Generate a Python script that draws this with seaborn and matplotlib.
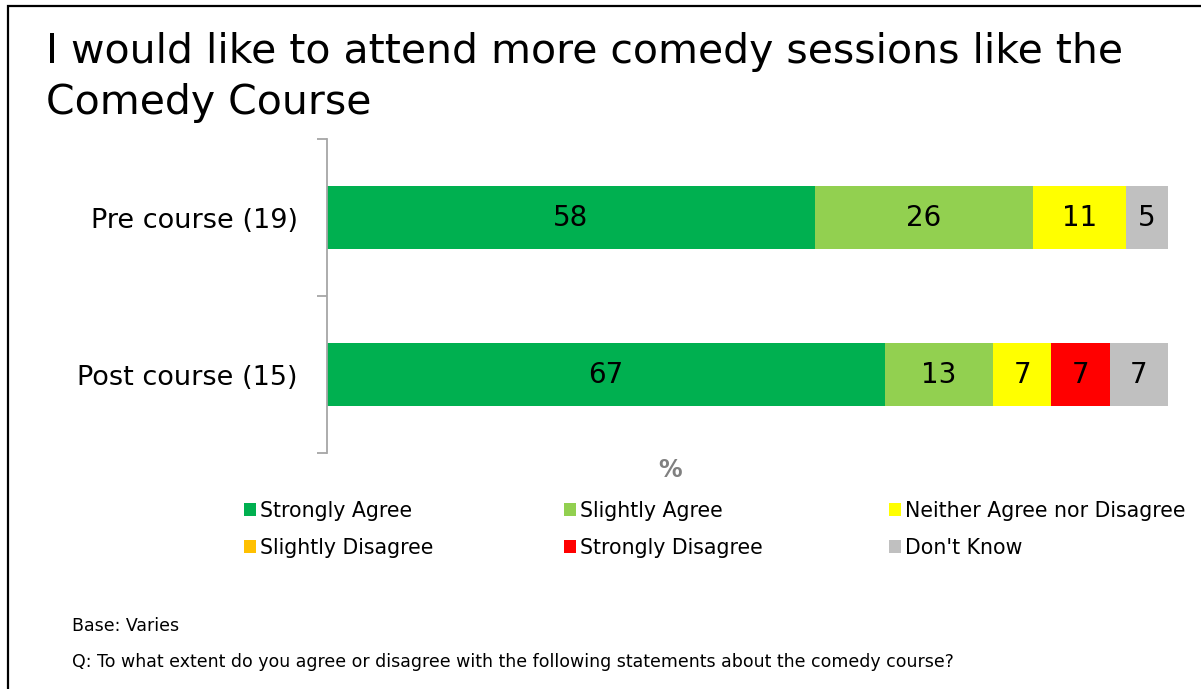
import matplotlib
matplotlib.use("Agg")
import matplotlib.pyplot as plt
from matplotlib.patches import Patch, Rectangle
import numpy as np
import pandas as pd
import seaborn as sns

# Survey groups and response categories
groups = ["Pre course (19)", "Post course (15)"]
responses = ["Strongly Agree", "Slightly Agree", "Neither Agree nor Disagree",
             "Slightly Disagree", "Strongly Disagree", "Don't Know"]

# Percentage of respondents per response (rounded), one value per group
strongly_agree = [58, 67]
slightly_agree = [26, 13]
neither = [11, 7]
slightly_disagree = [0, 0]
strongly_disagree = [0, 7]
dont_know = [5, 7]

colors = ["#00B050", "#92D050", "#FFFF00", "#FFC000", "#FF0000", "#C0C0C0"]

title_lines = ["I would like to attend more comedy sessions like the",
               "Comedy Course"]
base_note = "Base: Varies"
question_note = ("Q: To what extent do you agree or disagree with the following "
                 "statements about the comedy course?")

series = [strongly_agree, slightly_agree, neither,
          slightly_disagree, strongly_disagree, dont_know]

sns.set_style("white")
plt.rcParams["font.family"] = ["DejaVu Sans"]
plt.rcParams["text.color"] = "black"

W, H = 1201, 689
fig = plt.figure(figsize=(W / 100, H / 100), dpi=100)
fig.patch.set_facecolor("white")

ax = fig.add_axes([327 / W, 1 - 453 / H, (1168 - 327) / W, (453 - 139) / H])

# Long-format table; each bar is scaled to fill 100% of the axis
rows = []
for g_i, g in enumerate(groups):
    total = sum(s[g_i] for s in series)
    start = 0.0
    for r_i, r in enumerate(responses):
        v = series[r_i][g_i]
        share = v / total * 100
        rows.append(dict(group=g, response=r, value=v, start=start,
                         share=share, end=start + share, order=r_i))
        start += share
df = pd.DataFrame(rows)

# Draw from the outermost segment inwards so each shorter bar sits on top
for r_i in reversed(range(len(responses))):
    layer = df[df["order"] == r_i]
    sns.barplot(data=layer, x="end", y="group", order=groups, orient="h",
                color=colors[r_i], saturation=1, width=0.4,
                linewidth=0, edgecolor="none", ax=ax)

# Value labels in the middle of each segment
for _, row in df.iterrows():
    if row["value"] > 0:
        ax.text(row["start"] + row["share"] / 2, groups.index(row["group"]),
                f"{row['value']:.0f}", ha="center", va="center",
                fontsize=20, color="black")

ax.set_xlim(0, 100)
ax.set_ylim(1.5, -0.5)
ax.set_xlabel("")
ax.set_ylabel("")
ax.set_xticks([])
ax.set_yticks(range(len(groups)))
ax.set_yticklabels(groups, fontsize=19.5, color="black")
ax.set_yticks([-0.5, 0.5, 1.5], minor=True)
ax.tick_params(axis="y", which="major", length=0, pad=21, labelcolor="black")
ax.tick_params(axis="y", which="minor", length=7.2, width=1.3, color="#A6A6A6",
               left=True)
for s in ["top", "right", "bottom"]:
    ax.spines[s].set_visible(False)
ax.spines["left"].set_color("#A6A6A6")
ax.spines["left"].set_linewidth(1.3)
ax.set_facecolor("white")

# Axis unit label
fig.text(670 / W, 1 - 470 / H, "%", ha="center", va="center",
         fontsize=17, fontweight="bold", color="#808080")

# Legend laid out in three columns, filled row by row
col_x = [244, 564, 889]
for c in range(3):
    idx = [c, c + 3]
    handles = [Patch(facecolor=colors[i], edgecolor="none") for i in idx]
    labels = [responses[i] for i in idx]
    fig.legend(handles, labels, loc="upper left",
               bbox_to_anchor=(col_x[c] / W, 1 - 501 / H),
               bbox_transform=fig.transFigure, frameon=False,
               fontsize=14.8, labelcolor="black", handlelength=0.6,
               handleheight=0.6, handletextpad=0.2, labelspacing=0.82,
               borderpad=0, borderaxespad=0)

# Title, two lines
fig.text(46 / W, 1 - 63 / H, title_lines[0], ha="left", va="baseline",
         fontsize=29.5, color="black")
fig.text(46 / W, 1 - 114 / H, title_lines[1], ha="left", va="baseline",
         fontsize=29.5, color="black")

# Footnotes
fig.text(72 / W, 1 - 626 / H, base_note, ha="left", va="center",
         fontsize=12.5, color="black")
fig.text(72 / W, 1 - 662 / H, question_note, ha="left", va="center",
         fontsize=12.5, color="black")

# Slide frame
fig.add_artist(Rectangle((8 / W, -0.5), 1.2, 1.5 - 6 / H,
                         transform=fig.transFigure, fill=False,
                         edgecolor="black", linewidth=1.6, clip_on=False))

fig.savefig("out.png", dpi=100)
